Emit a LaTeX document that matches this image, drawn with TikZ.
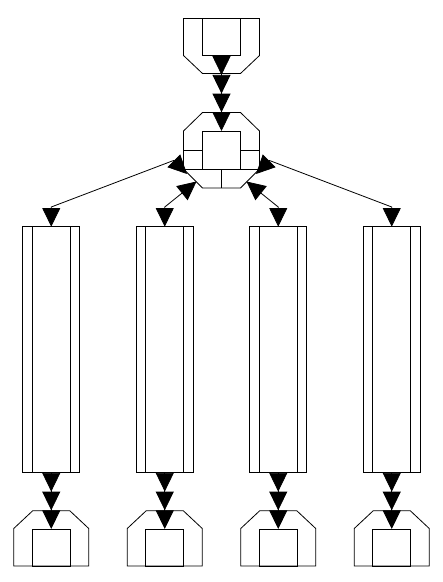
\documentclass[tikz,border=0pt]{standalone}
\usetikzlibrary{arrows.meta}

\tikzset{
  box/.style={draw, minimum width=38pt, minimum height=37pt, inner sep=0pt, outer sep=0pt},
  hubbox/.style={box, minimum height=38pt},
  store/.style={draw, minimum width=57pt, minimum height=245.6pt, inner sep=0pt, outer sep=0pt},
  flow/.style={arrows={Triangle[length=18.7pt,width=18pt]-Triangle[length=18.7pt,width=18pt]}},
  chainthree/.style={arrows={-Triangle[length=18.7pt,width=18pt]Triangle[length=18.7pt,width=18pt]Triangle[length=18.7pt,width=18pt]}},
  chainfour/.style={arrows={-Triangle[length=18.7pt,width=18pt]Triangle[length=18.7pt,width=18pt]Triangle[length=18.7pt,width=18pt]Triangle[length=18.7pt,width=18pt]}}
}

\begin{document}
\begin{tikzpicture}[x=1pt,y=-1pt,line width=0.8pt]
		%%Location
		\useasboundingbox (0,0) rectangle (443,582);
		%%Source
		\node[box] (src) at (221.5,37) {};
		\draw (183.5,18.5) -- (183.5,55.5) -- (202.5,73.5) -- (240.5,73.5) -- (259.5,55.5) -- (259.5,18.5) -- cycle;
		%%Hub
		\node[hubbox] (hub) at (221.5,150) {};
		\draw (202.5,112.5) -- (240.5,112.5) -- (259.5,131) -- (259.5,169) -- (240.5,188) -- (202.5,188) -- (183.5,169) -- (183.5,131) -- cycle;
		\draw (183.5,150) -- (hub.west);
		\draw (hub.east) -- (259.5,150);
		\draw (183.5,169) -- (259.5,169);
		\draw (hub.south) -- (221.5,188);
		\draw[chainfour] (src.south) -- (hub.north);
		%%Stores and sinks
		\foreach \x [count=\i] in {51.25,164.75,278.25,391.75} {
			\node[store] (store\i) at (\x,349.5) {};
			\draw ([xshift=9.5pt]store\i.north west) -- ([xshift=9.5pt]store\i.south west);
			\draw ([xshift=-9.5pt]store\i.north east) -- ([xshift=-9.5pt]store\i.south east);
			\node[box] (sink\i) at (\x,547.5) {};
			\draw (\x-18.5,510.7) -- (\x+18.5,510.7) -- (\x+37.5,528.5) -- (\x+37.5,566) -- (\x-37.5,566) -- (\x-37.5,528.5) -- cycle;
			\draw[chainthree] (store\i.south) -- (sink\i.north);
			\coordinate (k\i) at (\x,207);
		}
		%%Flows
		\coordinate (t1) at (187,174);
		\coordinate (t2) at (196.5,181.5);
		\coordinate (t3) at (246.5,181.5);
		\coordinate (t4) at (256,174);
		\draw[flow] (t1) -- ++(-13.5,-13.5) -- (k1) -- (store1.north);
		\draw[flow] (t2) -- (k2) -- (store2.north);
		\draw[flow] (t3) -- (k3) -- (store3.north);
		\draw[flow] (t4) -- ++(13.5,-13.5) -- (k4) -- (store4.north);
\end{tikzpicture}
\end{document}
